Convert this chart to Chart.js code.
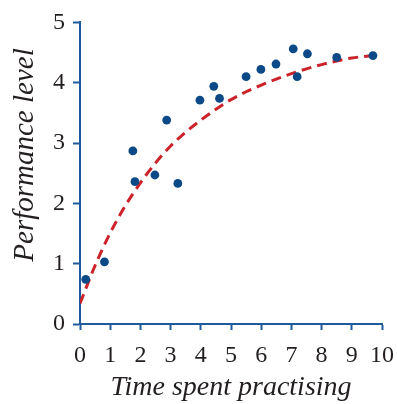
<!DOCTYPE html>
<html>
<head>
<meta charset="utf-8">
<script src="https://cdn.jsdelivr.net/npm/chart.js@4/dist/chart.umd.min.js"></script>
<style>
  html, body { margin: 0; padding: 0; background: #fff; }
  #wrap { width: 397px; height: 404px; }
</style>
</head>
<body>
<div id="wrap"><canvas id="practiceChart" width="397" height="404"></canvas></div>
<script>
// Observed sessions: hours practised vs performance level
const practiceX = [0.19, 0.81, 1.75, 1.82, 2.48, 2.87, 3.24, 3.97, 4.43, 4.62, 5.50, 5.99, 6.49, 7.06, 7.19, 7.53, 8.50, 9.70];
const performanceY = [0.74, 1.03, 2.87, 2.36, 2.47, 3.38, 2.33, 3.71, 3.94, 3.74, 4.10, 4.22, 4.31, 4.56, 4.10, 4.48, 4.42, 4.45];

// Learning curve (dashed trend)
const curveX = [0, 0.5, 1, 1.5, 2, 2.5, 3, 3.5, 4, 4.5, 5, 5.5, 6, 6.5, 7, 7.5, 8, 8.5, 9, 9.5, 9.7];
const curveY = [0.34, 0.97, 1.51, 1.96, 2.34, 2.67, 2.95, 3.18, 3.38, 3.56, 3.72, 3.85, 3.96, 4.06, 4.15, 4.23, 4.30, 4.36, 4.41, 4.44, 4.45];

const xTicks = [0, 1, 2, 3, 4, 5, 6, 7, 8, 9, 10];
const yTicks = [0, 1, 2, 3, 4, 5];

const xTitle = "Time spent practising";
const yTitle = "Performance level";

const AXIS_BLUE = "#1f5a9c";
const DOT_BLUE = "#0c4a87";
const CURVE_RED = "#cc2229";
const TEXT = "#231f20";
const SERIF = "'Liberation Serif', 'DejaVu Serif', serif";

const toPoints = (xs, ys) => xs.map((x, i) => ({ x: x, y: ys[i] }));

// vertical axis title, sits a bit above the middle of the axis
const yTitlePlugin = {
  id: "yTitle",
  afterDraw(chart) {
    const c = chart.ctx;
    c.save();
    c.translate(25, 155);
    c.rotate(-Math.PI / 2);
    c.font = "italic 29px " + SERIF;
    c.fillStyle = TEXT;
    c.textAlign = "center";
    c.textBaseline = "middle";
    c.fillText(yTitle, 0, 0);
    c.restore();
  },
};

const ctx = document.getElementById("practiceChart").getContext("2d");

new Chart(ctx, {
  type: "scatter",
  data: {
    datasets: [
      {
        label: "Sessions",
        data: toPoints(practiceX, performanceY),
        backgroundColor: DOT_BLUE,
        borderColor: DOT_BLUE,
        borderWidth: 0,
        pointRadius: 4.4,
        order: 1,
      },
      {
        label: "Trend",
        data: toPoints(curveX, curveY),
        showLine: true,
        borderColor: CURVE_RED,
        borderWidth: 3,
        borderDash: [10, 6],
        cubicInterpolationMode: "monotone",
        pointRadius: 0,
        fill: false,
        order: 2,
      },
    ],
  },
  plugins: [yTitlePlugin],
  options: {
    responsive: false,
    animation: false,
    layout: { padding: { top: 21, right: 15, left: 0, bottom: 0 } },
    plugins: {
      legend: { display: false },
      tooltip: { enabled: false },
    },
    scales: {
      x: {
        type: "linear",
        min: 0,
        max: 10,
        afterFit: (scale) => {
          scale.height = 80;
          scale.paddingLeft = 0;
          scale.paddingRight = 0;
        },
        afterBuildTicks: (scale) => { scale.ticks = xTicks.map((v) => ({ value: v })); },
        border: { color: AXIS_BLUE, width: 2 },
        grid: {
          drawOnChartArea: false,
          tickLength: 6,
          tickColor: AXIS_BLUE,
          tickWidth: 2,
        },
        ticks: {
          padding: 11,
          color: TEXT,
          font: { family: SERIF, size: 24 },
          maxRotation: 0,
        },
        title: {
          display: true,
          text: xTitle,
          color: TEXT,
          font: { family: SERIF, size: 28, style: "italic" },
          padding: { top: 0, bottom: 0 },
        },
      },
      y: {
        type: "linear",
        min: 0,
        max: 5,
        afterFit: (scale) => { scale.width = 80; },
        afterBuildTicks: (scale) => { scale.ticks = yTicks.map((v) => ({ value: v })); },
        border: { color: AXIS_BLUE, width: 2 },
        grid: {
          drawOnChartArea: false,
          tickLength: 7,
          tickColor: AXIS_BLUE,
          tickWidth: 2,
        },
        ticks: {
          padding: 8,
          color: TEXT,
          font: { family: SERIF, size: 24 },
        },
        title: { display: false },
      },
    },
  },
});
</script>
</body>
</html>
